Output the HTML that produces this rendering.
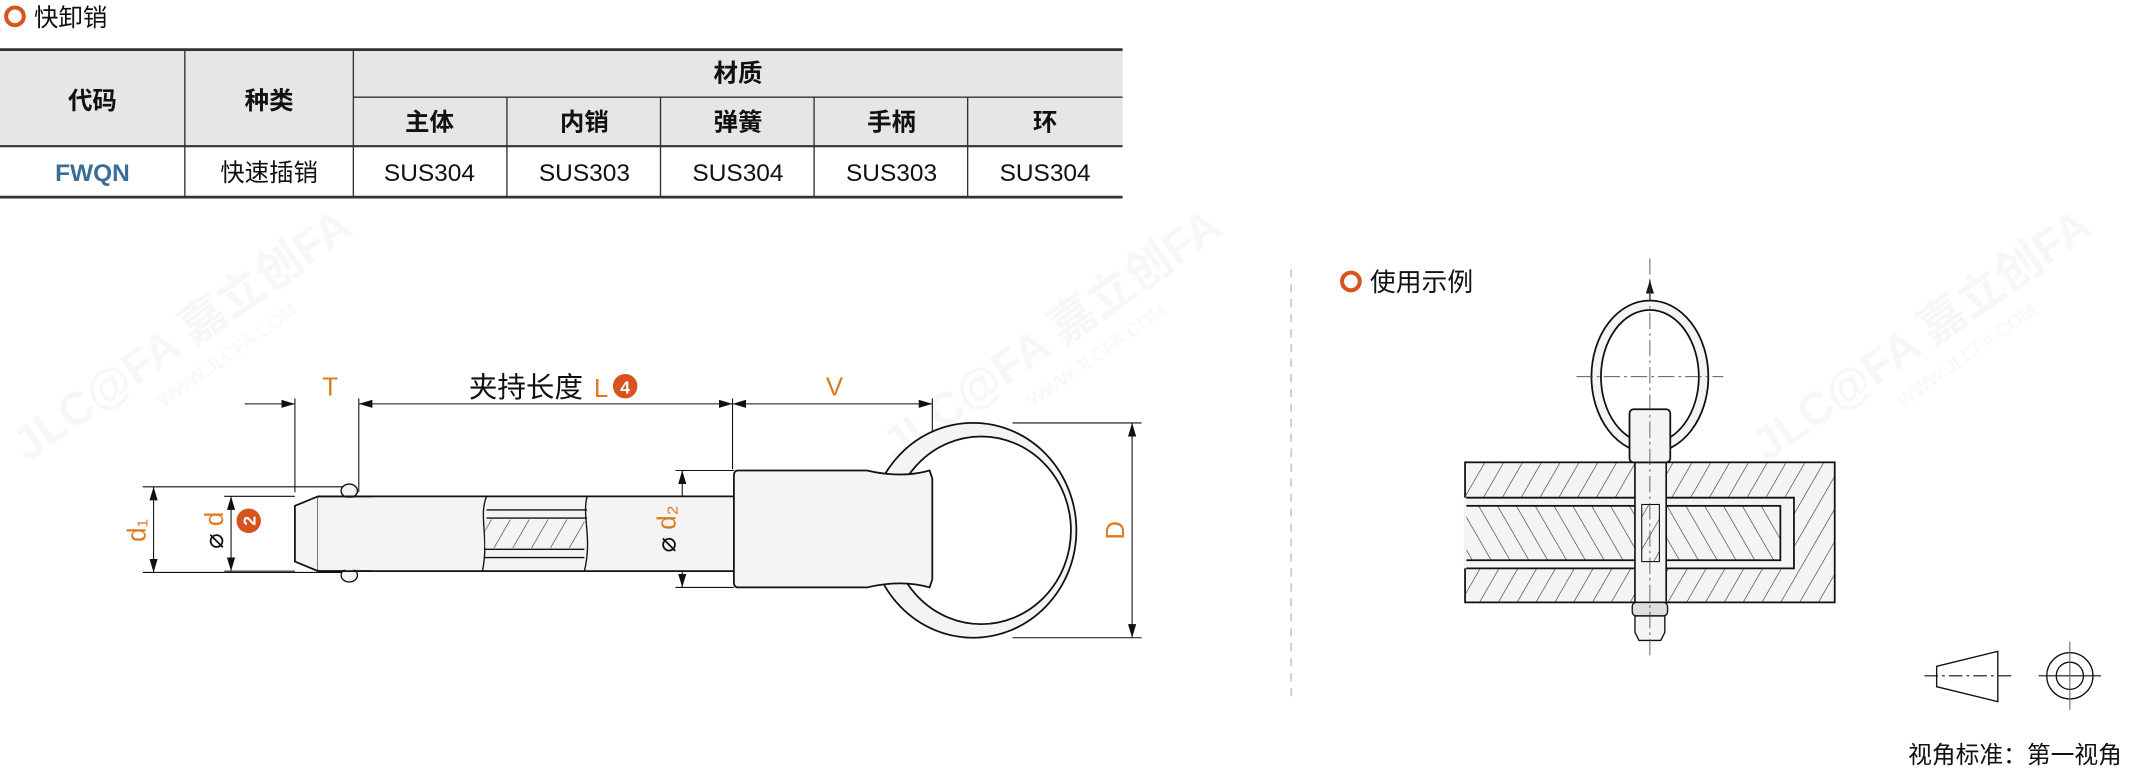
<!DOCTYPE html>
<html><head><meta charset="utf-8"><style>
html,body{margin:0;padding:0;background:#fff;}
svg{display:block;}
text{font-family:"Liberation Sans","Noto Sans CJK SC",sans-serif;}
</style></head><body>
<svg width="2131" height="771" viewBox="0 0 1568 567" preserveAspectRatio="none" xmlns="http://www.w3.org/2000/svg">
<defs>
<pattern id="h1" width="12" height="12" patternUnits="userSpaceOnUse" patternTransform="rotate(30)"><rect width="12" height="12" fill="#f4f4f4"/><line x1="0" y1="0" x2="0" y2="12" stroke="#333" stroke-width="0.9"/></pattern>
<pattern id="h2" width="12" height="12" patternUnits="userSpaceOnUse" patternTransform="rotate(-30)"><rect width="12" height="12" fill="#f4f4f4"/><line x1="0" y1="0" x2="0" y2="12" stroke="#333" stroke-width="0.9"/></pattern>
<marker id="ar" markerWidth="10" markerHeight="6" refX="10" refY="3" orient="auto" markerUnits="userSpaceOnUse"><path d="M0,0 L10,3 L0,6 z" fill="#111"/></marker>
</defs>

<!-- watermarks -->
<g fill="#000" opacity="0.035" font-weight="bold">
<text transform="translate(20,340) rotate(-35)" font-size="34">JLC@FA 嘉立创FA</text>
<text transform="translate(120,300) rotate(-35)" font-size="14" font-weight="normal">WWW.JLCFA.COM</text>
<text transform="translate(660,340) rotate(-35)" font-size="34">JLC@FA 嘉立创FA</text>
<text transform="translate(760,300) rotate(-35)" font-size="14" font-weight="normal">WWW.JLCFA.COM</text>
<text transform="translate(1300,340) rotate(-35)" font-size="34">JLC@FA 嘉立创FA</text>
<text transform="translate(1400,300) rotate(-35)" font-size="14" font-weight="normal">WWW.JLCFA.COM</text>
</g>

<!-- title -->
<circle cx="11" cy="12" r="6.5" fill="none" stroke="#d9531e" stroke-width="3"/>
<text x="25" y="19" font-size="18" fill="#111">快卸销</text>

<!-- table -->
<rect x="0" y="36" width="826" height="71" fill="#e6e6e6"/>
<line x1="0" y1="36.5" x2="826" y2="36.5" stroke="#333" stroke-width="2"/>
<line x1="260" y1="71.5" x2="826" y2="71.5" stroke="#333" stroke-width="1"/>
<line x1="0" y1="107.5" x2="826" y2="107.5" stroke="#333" stroke-width="1.6"/>
<line x1="0" y1="145" x2="826" y2="145" stroke="#333" stroke-width="2"/>
<g stroke="#333" stroke-width="1">
<line x1="136" y1="36" x2="136" y2="145"/><line x1="260" y1="36" x2="260" y2="145"/>
<line x1="373" y1="71" x2="373" y2="145"/><line x1="486" y1="71" x2="486" y2="145"/>
<line x1="599" y1="71" x2="599" y2="145"/><line x1="712" y1="71" x2="712" y2="145"/>
</g>
<g font-size="18" text-anchor="middle" fill="#111" font-weight="bold">
<text x="68" y="80">代码</text><text x="198" y="80">种类</text><text x="543" y="60">材质</text>
<text x="316" y="96">主体</text><text x="430" y="96">内销</text><text x="543" y="96">弹簧</text><text x="656" y="96">手柄</text><text x="769" y="96">环</text>
</g>
<g font-size="18" text-anchor="middle" fill="#111">
<text x="68" y="133" fill="#3a6e9a" font-weight="bold">FWQN</text><text x="198" y="133">快速插销</text>
<text x="316" y="133">SUS304</text><text x="430" y="133">SUS303</text><text x="543" y="133">SUS304</text><text x="656" y="133">SUS303</text><text x="769" y="133">SUS304</text>
</g>

<!-- left drawing -->
<g stroke="#111" stroke-width="0.8" fill="none">
<line x1="217" y1="293" x2="217" y2="362"/><line x1="264" y1="293" x2="264" y2="362"/>
<line x1="539" y1="293" x2="539" y2="345"/><line x1="686" y1="293" x2="686" y2="345"/>
<line x1="180" y1="297" x2="217" y2="297" marker-end="url(#ar)"/>
<line x1="400" y1="297" x2="264" y2="297" marker-end="url(#ar)"/>
<line x1="400" y1="297" x2="539" y2="297" marker-end="url(#ar)"/>
<line x1="612" y1="297" x2="539" y2="297" marker-end="url(#ar)"/>
<line x1="612" y1="297" x2="686" y2="297" marker-end="url(#ar)"/>
<line x1="105" y1="358" x2="255" y2="358"/><line x1="105" y1="421" x2="255" y2="421"/>
<line x1="113" y1="390" x2="113" y2="358" marker-end="url(#ar)"/><line x1="113" y1="390" x2="113" y2="421" marker-end="url(#ar)"/>
<line x1="165" y1="365" x2="217" y2="365"/><line x1="165" y1="420" x2="217" y2="420"/>
<line x1="170" y1="392" x2="170" y2="365" marker-end="url(#ar)"/><line x1="170" y1="392" x2="170" y2="420" marker-end="url(#ar)"/>
<line x1="497" y1="346" x2="540" y2="346"/><line x1="497" y1="432" x2="540" y2="432"/>
<line x1="502" y1="389" x2="502" y2="346" marker-end="url(#ar)"/><line x1="502" y1="389" x2="502" y2="432" marker-end="url(#ar)"/>
<line x1="745" y1="311" x2="840" y2="311"/><line x1="745" y1="469" x2="840" y2="469"/>
<line x1="833" y1="390" x2="833" y2="311" marker-end="url(#ar)"/><line x1="833" y1="390" x2="833" y2="469" marker-end="url(#ar)"/>
</g>
<ellipse cx="716" cy="390" rx="76" ry="79" fill="#f4f4f4" stroke="#111" stroke-width="1.3"/>
<ellipse cx="722" cy="390" rx="66" ry="69" fill="#fff" stroke="#111" stroke-width="1.3"/>
<path d="M234,365 L540,365 L540,420 L234,420 L217,413 L217,372 Z" fill="#f4f4f4" stroke="#111" stroke-width="1.3"/>
<line x1="234" y1="365" x2="234" y2="420" stroke="#111" stroke-width="0.8"/>
<ellipse cx="257" cy="361" rx="6" ry="5" fill="#f4f4f4" stroke="#111" stroke-width="1"/>
<ellipse cx="257" cy="423" rx="6" ry="5" fill="#f4f4f4" stroke="#111" stroke-width="1"/>
<rect x="234" y="366" width="40" height="53" fill="#f4f4f4"/>
<line x1="234" y1="365" x2="274" y2="365" stroke="#111" stroke-width="1.3"/><line x1="234" y1="420" x2="274" y2="420" stroke="#111" stroke-width="1.3"/>
<path d="M358,365 C352,380 360,395 355,420 M432,365 C428,380 436,395 430,420" stroke="#111" fill="none" stroke-width="1"/>
<line x1="358" y1="375" x2="432" y2="375" stroke="#111"/><line x1="358" y1="381" x2="432" y2="381" stroke="#111"/>
<line x1="356" y1="404" x2="430" y2="404" stroke="#111"/><line x1="356" y1="410" x2="430" y2="410" stroke="#111"/>
<rect x="357" y="382" width="73" height="21" fill="url(#h1)"/>
<path d="M543,346 L638,346 C655,350 670,350 684,346 L686,352 L686,426 L684,432 C670,428 655,428 638,432 L543,432 Q540,432 540,428 L540,350 Q540,346 543,346 Z" fill="#f4f4f4" stroke="#111" stroke-width="1.3"/>
<g fill="#e07a20" font-size="19">
<text x="243" y="291" text-anchor="middle">T</text>
<text x="614" y="291" text-anchor="middle">V</text>
<text x="437" y="292">L</text>
<text transform="translate(107,390) rotate(-90)" text-anchor="middle">d₁</text>
<text transform="translate(164,390) rotate(-90)" text-anchor="middle" fill="#111">⌀ <tspan fill="#e07a20">d</tspan></text>
<text transform="translate(497,389) rotate(-90)" text-anchor="middle" fill="#111">⌀ <tspan fill="#e07a20">d₂</tspan></text>
<text transform="translate(827,390) rotate(-90)" text-anchor="middle">D</text>
</g>
<text x="345" y="292" font-size="21" fill="#111">夹持长度</text>
<circle cx="460" cy="284" r="9" fill="#d9531e"/><text x="460" y="289.5" font-size="13" fill="#fff" text-anchor="middle" font-weight="bold">4</text>
<circle cx="183" cy="383" r="9" fill="#d9531e"/><text transform="translate(188,383) rotate(-90)" font-size="13" fill="#fff" text-anchor="middle" font-weight="bold">2</text>

<line x1="950" y1="198" x2="950" y2="512" stroke="#bbb" stroke-dasharray="6,5" stroke-width="1"/>

<circle cx="994" cy="207" r="6.5" fill="none" stroke="#d9531e" stroke-width="3"/>
<text x="1008" y="214" font-size="19" fill="#111">使用示例</text>
<line x1="1214" y1="224" x2="1214" y2="206" stroke="#111" marker-end="url(#ar)"/>
<ellipse cx="1214" cy="277" rx="43" ry="56" fill="#f4f4f4" stroke="#111" stroke-width="1.3"/>
<ellipse cx="1214" cy="277" rx="36" ry="49" fill="#fff" stroke="#111" stroke-width="1.3"/>
<rect x="1078" y="340" width="272" height="103" fill="url(#h1)" stroke="#111" stroke-width="1.3"/>
<path d="M1078,366 L1320,366 L1320,418 L1078,418" fill="#f4f4f4" stroke="#111" stroke-width="1.3"/>
<rect x="1078" y="372" width="232" height="40" fill="url(#h2)" stroke="#111" stroke-width="1.3"/>
<line x1="1078" y1="366" x2="1078" y2="418" stroke="#f4f4f4" stroke-width="2"/>
<rect x="1203" y="340" width="23" height="103" fill="#f4f4f4" stroke="#111" stroke-width="1.2"/>
<rect x="1208" y="371" width="13" height="42" fill="url(#h1)" stroke="#111" stroke-width="0.8"/>
<rect x="1199" y="301" width="30" height="39" rx="3" fill="#f4f4f4" stroke="#111" stroke-width="1.3"/>
<rect x="1201" y="443" width="26" height="10" rx="3" fill="#ddd" stroke="#111" stroke-width="1"/>
<path d="M1203,453 L1225,453 L1225,465 L1222,471 L1206,471 L1203,465 Z" fill="#f4f4f4" stroke="#111" stroke-width="1"/>
<g stroke="#444" stroke-width="0.6" stroke-dasharray="12,3,2,3" fill="none">
<line x1="1214" y1="190" x2="1214" y2="482"/><line x1="1160" y1="277" x2="1268" y2="277"/>
</g>

<path d="M1425,490 L1470,479 L1470,516 L1425,505 Z" fill="none" stroke="#111" stroke-width="1"/>
<line x1="1416" y1="497" x2="1480" y2="497" stroke="#111" stroke-width="0.8" stroke-dasharray="10,3,2,3"/>
<circle cx="1523" cy="497" r="17" fill="none" stroke="#111" stroke-width="1"/>
<circle cx="1523" cy="497" r="10" fill="none" stroke="#111" stroke-width="1"/>
<line x1="1500" y1="497" x2="1546" y2="497" stroke="#111" stroke-width="0.8"/>
<line x1="1523" y1="472" x2="1523" y2="522" stroke="#666" stroke-width="0.8"/>
<text x="1404" y="561" font-size="17.5" fill="#111">视角标准：第一视角</text>
</svg>
</body></html>
